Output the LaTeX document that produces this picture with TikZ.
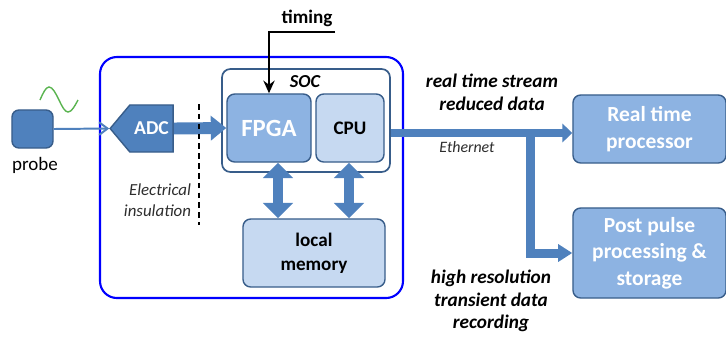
\documentclass[tikz,border=0pt]{standalone}
\usepackage{fontspec}
\setmainfont{Carlito}
\usepackage{tikz}
\usetikzlibrary{
    calc,
    arrows.meta,
    shapes.symbols
}
\definecolor{steel}{RGB}{79,129,189}
\definecolor{steeldark}{RGB}{56,93,138}
\definecolor{boxmid}{RGB}{141,179,226}
\definecolor{boxlight}{RGB}{198,217,241}
\definecolor{wave}{RGB}{90,180,80}
\definecolor{note}{RGB}{45,45,45}

\begin{document}
\begin{tikzpicture}[x=0.025cm,y=-0.025cm,
    blk/.style={draw=steeldark,line width=1pt,rounded corners=5.5pt,align=center,inner sep=2pt},
    midblk/.style={blk,fill=boxmid,text=white,font=\fontsize{15.3}{19}\selectfont\bfseries},
    lightblk/.style={blk,fill=boxlight,text=black,font=\fontsize{13.6}{17}\selectfont\bfseries},
    fatarrow/.style={steel,line width=#1},
    streamtext/.style={font=\fontsize{13.7}{16.5}\selectfont\bfseries\itshape,align=center}
]

\useasboundingbox (0,0) rectangle (726,337);

%====================================================
% Scheda di acquisizione
%====================================================

\draw[blue,line width=1.5pt,rounded corners=12pt] (100,57) rectangle (403,298);

\node[draw=steeldark,fill=steel,line width=1pt,rounded corners=5pt,
      minimum width=1.025cm,minimum height=0.95cm] (probe) at (32.5,129) {};
\node[font=\fontsize{13.5}{16}\selectfont] (probelbl) at (35,165) {probe};
\draw[wave,line width=1pt] (40,100) sin (49,87) cos (59,100) sin (68,112) cos (78,100);

\node[signal,signal to=west,signal pointer angle=100,draw=steeldark,fill=steel,
      line width=1pt,text=white,font=\fontsize{14}{16}\selectfont\bfseries,
      minimum width=1.575cm,minimum height=1.175cm,inner sep=0pt] (adc) at (151.5,128.5) {ADC};

\draw[steel,line width=1.4pt,-{Straight Barb[length=6pt,width=9pt]}] (probe.east) -- (adc.west);

%====================================================
% SOC
%====================================================

\node[draw=steeldark,fill=white,line width=1.2pt,rounded corners=6pt,
      minimum width=4.2cm,minimum height=2.575cm] (soc) at (306,120.5) {};
\node[font=\fontsize{13}{15}\selectfont\bfseries\itshape] (soclbl) at (305,82) {SOC};

\node[midblk,font=\fontsize{17.6}{20}\selectfont\bfseries,
      minimum width=2.1cm,minimum height=1.7cm] (fpga) at (269,128) {FPGA};
\node[lightblk,minimum width=1.7cm,minimum height=1.7cm] (cpu) at (350,128) {CPU};
\node[lightblk,minimum width=3.55cm,minimum height=1.7cm] (mem) at (314,253) {local\\memory};

\draw[fatarrow=8.5pt,-{Triangle[width=17pt,length=11pt]}] (adc.east) -- (fpga.west);

\coordinate (fm) at ($(fpga.south)+(9,0)$);
\coordinate (cm) at ($(cpu.south)+(-1,0)$);
\draw[fatarrow=7pt,{Triangle[width=21pt,length=11pt]}-{Triangle[width=21pt,length=11pt]}]
    (fm) -- (fm |- mem.north);
\draw[fatarrow=7pt,{Triangle[width=21pt,length=11pt]}-{Triangle[width=21pt,length=11pt]}]
    (cm) -- (cm |- mem.north);

% isolamento
\coordinate (insT) at (199,104);
\coordinate (insB) at (199,225);
\draw[line width=1.2pt,dash pattern=on 4pt off 3pt] (insT) -- (insB);
\node[font=\fontsize{12}{15}\selectfont\itshape,text=note,align=right,anchor=east]
    (ins) at (196,200) {Electrical\\insulation};

% timing
\node[font=\fontsize{13.6}{16}\selectfont\bfseries] (timing) at (307,18) {timing};
\coordinate (tim) at (335,32);
\draw[line width=1.4pt,-{Stealth[length=9pt,width=8pt]}] (tim) -| (fpga.north);

%====================================================
% Uscite
%====================================================

\node[midblk,minimum width=3.825cm,minimum height=1.7cm] (rt) at (649.5,129) {Real time\\processor};
\node[midblk,minimum width=3.825cm,minimum height=2.25cm] (post) at (649.5,253)
    {Post pulse\\processing \&\\storage};

\coordinate (eth) at ($(soc.east)+(0,12.5)$);
\draw[fatarrow=5.7pt,-{Triangle[width=13pt,length=7pt]}] (eth) -- (eth -| rt.west);
\coordinate (br) at (530,133);
\draw[fatarrow=6.4pt,-{Triangle[width=12pt,length=10pt]}] (br) |- (post.west);

\node[streamtext] (rts) at (492,92) {real time stream\\reduced data};
\node[font=\fontsize{11.3}{13}\selectfont\itshape,text=note] (ethlbl) at (467,147) {Ethernet};
\node[streamtext,font=\fontsize{13.7}{15.8}\selectfont\bfseries\itshape]
    (hr) at (491,301) {high resolution\\transient data\\recording};

\end{tikzpicture}
\end{document}
